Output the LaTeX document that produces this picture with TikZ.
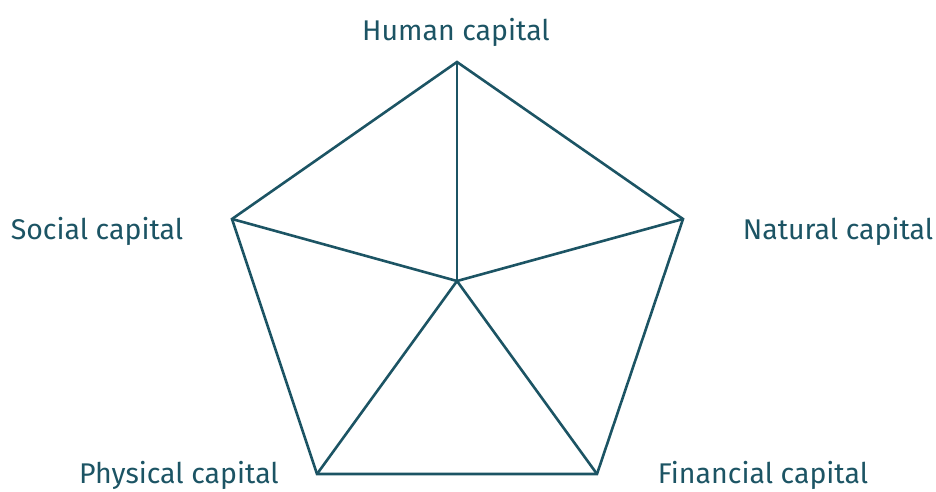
\documentclass[tikz,border=0pt]{standalone}
\usepackage{fontspec}
\setmainfont{Fira Sans}
\definecolor{teal1}{RGB}{28,84,100}
\begin{document}
\begin{tikzpicture}[x=1pt,y=-1pt,
  edge/.style={draw=teal1,line width=2.6pt,line join=miter},
  lab/.style={text=teal1,font=\fontsize{28.5}{32}\selectfont,inner sep=0pt}]
\useasboundingbox (0,0) rectangle (936,491);
\coordinate (H) at (457,62);
\coordinate (N) at (683,219);
\coordinate (F) at (597,474);
\coordinate (P) at (317,474);
\coordinate (S) at (232,219);
\coordinate (C) at (457,281);
\draw[edge] (H) -- (N) -- (F) -- (P) -- (S) -- cycle;
\draw[edge] (C) -- (H);
\draw[edge] (C) -- (N);
\draw[edge] (C) -- (F);
\draw[edge] (C) -- (P);
\draw[edge] (C) -- (S);
\node[lab] (hl) at (456,32) {Human capital};
\node[lab] (sl) at (97,231) {Social capital};
\node[lab] (nl) at (838,231) {Natural capital};
\node[lab] (pl) at (179,475) {Physical capital};
\node[lab] (fl) at (763,475) {Financial capital};
\end{tikzpicture}
\end{document}
